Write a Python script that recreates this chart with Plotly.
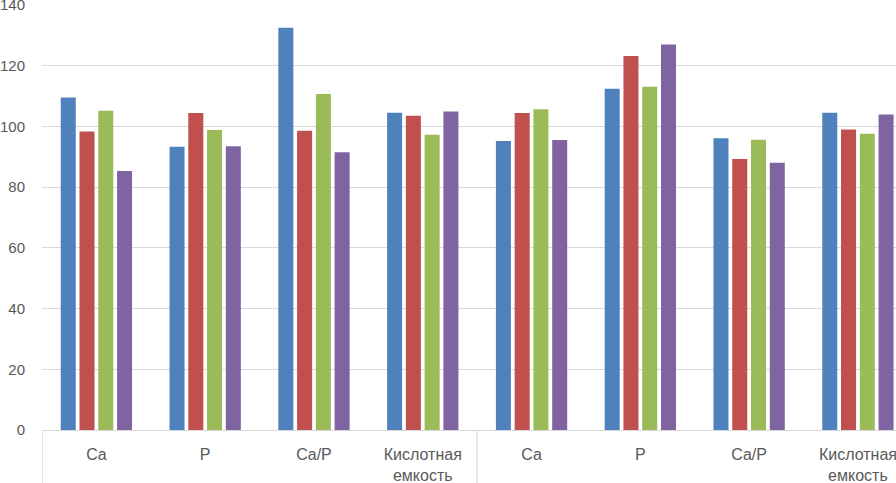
import plotly.graph_objects as go

categories = ["Ca", "P", "Ca/P", "Кислотная<br>емкость", "Ca", "P", "Ca/P", "Кислотная<br>емкость"]
series_names = ["Ряд 1", "Ряд 2", "Ряд 3", "Ряд 4"]
s1 = [109.5, 93.3, 132.5, 104.5, 95.2, 112.4, 96.1, 104.5]
s2 = [98.3, 104.4, 98.6, 103.5, 104.4, 123.2, 89.3, 99.0]
s3 = [105.2, 98.8, 110.7, 97.3, 105.7, 113.1, 95.6, 97.6]
s4 = [85.3, 93.5, 91.5, 104.9, 95.5, 127.0, 88.0, 103.9]
colors = ["#4F81BD", "#C0504D", "#9BBB59", "#8064A2"]
y_ticks = [0, 20, 40, 60, 80, 100, 120, 140]
group_bounds = [-0.5, 3.5, 7.5]

x = list(range(len(categories)))
fig = go.Figure()
for name, vals, c in zip(series_names, [s1, s2, s3, s4], colors):
    fig.add_trace(go.Bar(x=x, y=vals, name=name, marker=dict(color=c, line=dict(width=0))))

for b in group_bounds:
    fig.add_shape(type="line", xref="x", yref="paper", x0=b, x1=b, y0=0, y1=-0.2,
                  line=dict(color="#d9d9d9", width=1.3))

fig.update_layout(
    width=896, height=483,
    margin=dict(l=42, r=0, t=5, b=53),
    paper_bgcolor="white", plot_bgcolor="white",
    barmode="group", bargap=0.31, bargroupgap=0.2,
    showlegend=False,
    font=dict(family="Liberation Sans", size=16, color="#595959"),
    xaxis=dict(
        tickmode="array", tickvals=x, ticktext=categories, automargin=False,
        range=[-0.5, 7.35], showgrid=False, zeroline=False,
        showline=True, linecolor="#d9d9d9", linewidth=1.3,
        ticks="outside", ticklen=10, tickcolor="rgba(0,0,0,0)",
        tickfont=dict(size=16, color="#595959"), ticklabeloverflow="allow",
    ),
    yaxis=dict(
        range=[0, 140], tickvals=y_ticks, showgrid=True, gridcolor="#d9d9d9", gridwidth=1.3,
        zeroline=False, showline=False, automargin=False,
        ticks="outside", ticklen=13, tickcolor="rgba(0,0,0,0)",
        tickfont=dict(size=15, color="#595959"), ticklabeloverflow="allow",
    ),
)
fig.write_html("out.html", config={"displayModeBar": False},
               post_script="document.body.style.margin='0';document.body.style.overflow='hidden';")
